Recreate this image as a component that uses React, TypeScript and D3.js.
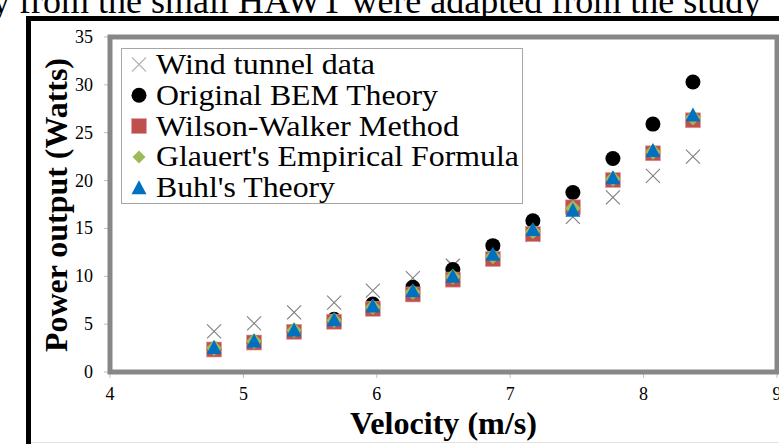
import React from 'react';
import * as d3 from 'd3';

// velocities (m/s)
const velocity = [4.78, 5.08, 5.38, 5.68, 5.97, 6.27, 6.57, 6.87, 7.17, 7.47, 7.77, 8.07, 8.37];
// power output (W)
const windTunnel = [4.25, 5.08, 6.22, 7.24, 8.5, 9.8, 11.1, 12.6, 14.3, 16.2, 18.25, 20.5, 22.5];
const originalBem = [2.4, 3.1, 4.25, 5.5, 7.1, 8.85, 10.7, 13.2, 15.8, 18.75, 22.3, 25.9, 30.3];
const wilsonWalker = [2.35, 3.08, 4.2, 5.25, 6.6, 8.1, 9.65, 11.8, 14.4, 17.2, 20.06, 22.85, 26.3];
const glauert = [2.5, 3.2, 4.35, 5.4, 6.8, 8.35, 9.95, 12.1, 14.7, 17.1, 20.2, 23.0, 26.6];
const buhl = [2.55, 3.25, 4.4, 5.45, 6.9, 8.5, 10.0, 12.3, 14.9, 16.9, 20.3, 23.15, 26.85];

const legendLabels = [
  'Wind tunnel data',
  'Original BEM Theory',
  'Wilson-Walker Method',
  "Glauert's Empirical Formula",
  "Buhl's Theory",
];
const legendWidths = [219, 282, 303, 363, 179];
const xTicks = [4, 5, 6, 7, 8, 9];
const yTicks = [0, 5, 10, 15, 20, 25, 30, 35];

const FONT = '"Liberation Serif", "Times New Roman", serif';

type Kind = 'x' | 'circle' | 'square' | 'diamond' | 'triangle';

function Marker({ kind, cx, cy, light }: { kind: Kind; cx: number; cy: number; light?: boolean }) {
  if (kind === 'x') {
    const h = 7;
    return (
      <g stroke={light ? '#b3b3b3' : '#7f7f7f'} strokeWidth={1.1}>
        <line x1={cx - h} y1={cy - h} x2={cx + h} y2={cy + h} />
        <line x1={cx - h} y1={cy + h} x2={cx + h} y2={cy - h} />
      </g>
    );
  }
  if (kind === 'circle') return <circle cx={cx} cy={cy} r={7.5} fill="#000" />;
  if (kind === 'square')
    return <rect x={cx - 7.5} y={cy - 7.5} width={15} height={15} fill="#C0504D" stroke="#d9a3a1" strokeWidth={0.6} />;
  if (kind === 'diamond')
    return <path d={`M${cx},${cy - 8}L${cx + 8},${cy}L${cx},${cy + 8}L${cx - 8},${cy}Z`} fill="#9BBB59" />;
  return <path d={`M${cx},${cy - 7.5}L${cx + 7.5},${cy + 6.5}L${cx - 7.5},${cy + 6.5}Z`} fill="#0070C0" />;
}

export default function App() {
  const x = d3.scaleLinear().domain([4, 9]).range([110, 777]);
  const y = d3.scaleLinear().domain([0, 35]).range([372, 37]);

  const series: { kind: Kind; values: number[] }[] = [
    { kind: 'x', values: windTunnel },
    { kind: 'circle', values: originalBem },
    { kind: 'square', values: wilsonWalker },
    { kind: 'diamond', values: glauert },
    { kind: 'triangle', values: buhl },
  ];

  return (
    <svg width={779} height={444} style={{ position: 'absolute', left: 0, top: 0, background: '#fff' }}>
      {/* cut-off caption line above the figure */}
      <text x={-8} y={13} fontFamily={FONT} fontSize={36} fill="#000">
        y from the small HAWT were adapted from the study
      </text>

      {/* outer black frame */}
      <path d="M28.5,446V18.5H790" fill="none" stroke="#000" strokeWidth={5} />
      <line x1={31} x2={779} y1={442.5} y2={442.5} stroke="#e3e3e3" strokeWidth={1} />

      {/* ticks */}
      {yTicks.map((t) => (
        <g key={'y' + t}>
          <line x1={104} x2={108} y1={y(t)} y2={y(t)} stroke="#bfbfbf" />
          <text x={93} y={y(t) + 6} textAnchor="end" fontFamily={FONT} fontSize={18}>
            {t}
          </text>
        </g>
      ))}
      {xTicks.map((t) => (
        <g key={'x' + t}>
          <line x1={x(t)} x2={x(t)} y1={374} y2={378} stroke="#bfbfbf" />
          <text x={x(t)} y={400} textAnchor="middle" fontFamily={FONT} fontSize={18}>
            {t}
          </text>
        </g>
      ))}

      {/* plot area border */}
      <rect x={x(4)} y={y(35)} width={x(9) - x(4)} height={y(0) - y(35)} fill="none" stroke="#878787" strokeWidth={5} />

      {/* points */}
      {series.map((s) => (
        <g key={s.kind}>
          {s.values.map((v, i) => (
            <Marker key={i} kind={s.kind} cx={x(velocity[i])} cy={y(v)} />
          ))}
        </g>
      ))}

      {/* legend */}
      <rect x={121.5} y={48.5} width={401} height={155} fill="#fff" stroke="#a6a6a6" strokeWidth={1} />
      {series.map((s, i) => {
        const cy = 64.5 + i * 30.8;
        return (
          <g key={'lg' + i}>
            {s.kind === 'diamond' ? (
              <path d={`M139,${cy - 6.5}L145.5,${cy}L139,${cy + 6.5}L132.5,${cy}Z`} fill="#9BBB59" />
            ) : (
              <Marker kind={s.kind} cx={139} cy={cy} light />
            )}
            <text
              x={156}
              y={cy + 9.5}
              fontFamily={FONT}
              fontSize={29}
              textLength={legendWidths[i]}
              lengthAdjust="spacingAndGlyphs"
            >
              {legendLabels[i]}
            </text>
          </g>
        );
      })}

      {/* axis titles */}
      <text
        x={443.5}
        y={434}
        textAnchor="middle"
        fontFamily={FONT}
        fontWeight="bold"
        fontSize={31}
        textLength={187}
        lengthAdjust="spacingAndGlyphs"
      >
        Velocity (m/s)
      </text>
      <text
        transform="translate(66.5,205) rotate(-90)"
        textAnchor="middle"
        fontFamily={FONT}
        fontWeight="bold"
        fontSize={32}
        textLength={294}
        lengthAdjust="spacingAndGlyphs"
      >
        Power output (Watts)
      </text>
    </svg>
  );
}
